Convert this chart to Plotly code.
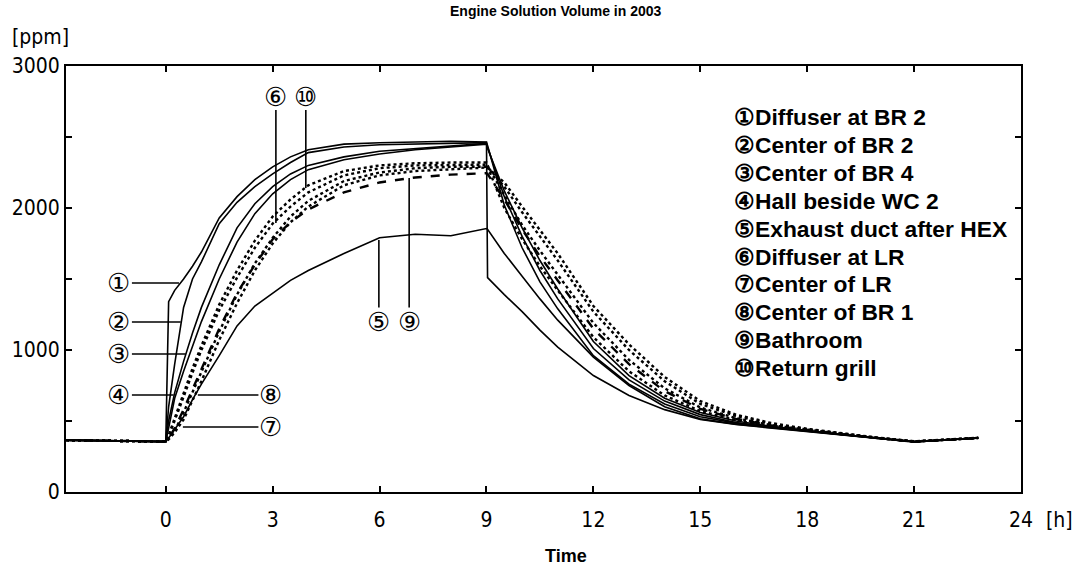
import plotly.graph_objects as go

TIME = [-2.8, 0, 0.08, 0.25, 0.5, 0.75, 1, 1.5, 2, 2.5, 3, 3.5, 4, 5, 6, 7, 8, 9,
        9.03, 9.5, 10, 10.5, 11, 12, 13, 14, 15, 16, 17, 18, 19, 20, 21, 22, 22.8]

S1 = [365, 355, 1340, 1420, 1500, 1590, 1690, 1930, 2080, 2200, 2290, 2360, 2410, 2450, 2460, 2465, 2470, 2465,
      1510, 1390, 1270, 1140, 1020, 820, 680, 580, 510, 475, 450, 425, 400, 375, 352, 368, 380]
S2 = [365, 355, 600, 900, 1300, 1500, 1620, 1890, 2040, 2150, 2240, 2320, 2390, 2430, 2445, 2450, 2460, 2460,
      2440, 2020, 1720, 1480, 1290, 960, 760, 620, 530, 485, 455, 428, 402, 378, 354, 368, 380]
S3 = [365, 355, 500, 700, 920, 1120, 1300, 1600, 1860, 2030, 2150, 2240, 2300, 2360, 2400, 2420, 2440, 2455,
      2430, 2080, 1800, 1560, 1360, 1010, 790, 640, 545, 490, 458, 430, 404, 380, 355, 368, 380]
S4 = [365, 355, 450, 660, 850, 1030, 1200, 1500, 1760, 1960, 2100, 2200, 2270, 2340, 2380, 2410, 2430, 2450,
      2420, 2120, 1860, 1630, 1430, 1060, 820, 660, 560, 500, 462, 432, 405, 380, 355, 368, 380]
S5 = [365, 355, 380, 440, 530, 650, 760, 960, 1170, 1310, 1400, 1490, 1560, 1680, 1790, 1815, 1805, 1855,
      1850, 1680, 1520, 1360, 1210, 950, 750, 600, 515, 478, 452, 426, 400, 376, 352, 368, 380]
S6 = [365, 355, 390, 500, 670, 840, 1000, 1280, 1510, 1720, 1890, 2010, 2110, 2230, 2280, 2300, 2305, 2305,
      2290, 2000, 1780, 1590, 1420, 1090, 850, 680, 570, 505, 464, 434, 406, 379, 355, 368, 380]
S7 = [365, 355, 370, 420, 510, 640, 780, 1070, 1330, 1560, 1750, 1900, 2010, 2160, 2230, 2260, 2275, 2285,
      2285, 2180, 2010, 1845, 1680, 1310, 1040, 810, 640, 545, 485, 445, 412, 382, 357, 370, 382]
S8 = [365, 355, 380, 430, 560, 700, 840, 1130, 1390, 1610, 1790, 1940, 2050, 2190, 2250, 2280, 2290, 2295,
      2290, 2150, 1970, 1800, 1630, 1270, 1000, 780, 620, 535, 478, 441, 410, 381, 356, 369, 381]
S9 = [365, 355, 375, 450, 580, 720, 860, 1150, 1400, 1600, 1780, 1900, 1990, 2110, 2180, 2215, 2235, 2245,
      2240, 2060, 1850, 1660, 1490, 1150, 900, 710, 585, 515, 468, 436, 407, 379, 355, 368, 380]
S10 = [365, 355, 400, 520, 700, 870, 1030, 1320, 1560, 1770, 1940, 2060, 2160, 2260, 2300, 2315, 2320, 2320,
       2300, 2090, 1880, 1700, 1530, 1190, 930, 730, 595, 520, 470, 437, 408, 380, 356, 369, 381]

NAMES = ["Diffuser at BR 2", "Center of BR 2", "Center of BR 4", "Hall beside WC 2",
         "Exhaust duct after HEX", "Diffuser at LR", "Center of LR", "Center of BR 1",
         "Bathroom", "Return grill"]
MARKS = ["①", "②", "③", "④", "⑤", "⑥", "⑦", "⑧", "⑨", "⑩"]
SERIES = [S1, S2, S3, S4, S5, S6, S7, S8, S9, S10]
STYLES = ["solid", "solid", "solid", "solid", "solid", "dot", "dot", "dot", "dash", "dot"]

X_TICKS = [0, 3, 6, 9, 12, 15, 18, 21, 24]
Y_TICKS = [0, 500, 1000, 1500, 2000, 2500, 3000]
Y_TEXT = ["0", "", "1000", "", "2000", "", "3000"]

# circled labels: (index, x, y, line x0, y0, x1, y1)
CALLOUTS = [
    (0, -1.32, 1472, -0.95, 1472, 0.37, 1472),
    (1, -1.32, 1197, -0.95, 1197, 0.42, 1197),
    (2, -1.32, 972, -0.95, 972, 0.56, 972),
    (3, -1.32, 683, -0.95, 683, 0.22, 683),
    (7, 2.95, 683, 0.9, 683, 2.6, 683),
    (6, 2.95, 458, 0.48, 458, 2.6, 458),
    (5, 3.09, 2782, 3.09, 2690, 3.09, 1894),
    (9, 3.93, 2782, 3.93, 2690, 3.93, 2140),
    (4, 5.98, 1197, 5.98, 1300, 5.98, 1775),
    (8, 6.83, 1197, 6.83, 1300, 6.83, 2211),
]

L, T, W, H = 63, 66, 958, 426

fig = go.Figure()
for i, s in enumerate(SERIES):
    w = 1.6 if STYLES[i] == "solid" else 2.4
    fig.add_trace(go.Scatter(x=TIME, y=s, mode="lines", name=NAMES[i],
                             line=dict(color="black", width=w, dash=STYLES[i]),
                             showlegend=False))

TICKFONT = dict(family="DejaVu Sans Condensed, Liberation Sans Narrow, sans-serif",
                size=21, color="black")

fig.update_layout(
    width=1081, height=572,
    margin=dict(l=L, r=1081 - L - W, t=T, b=572 - T - H),
    paper_bgcolor="white", plot_bgcolor="white",
    xaxis=dict(range=[-2.8, 24], tickvals=X_TICKS, ticks="inside", ticklen=6, tickwidth=2,
               showline=True, linewidth=2, linecolor="black", mirror="ticks",
               showgrid=False, zeroline=False, tickfont=TICKFONT, tickcolor="black",
               ticklabelstandoff=8),
    yaxis=dict(range=[0, 3000], tickvals=Y_TICKS, ticktext=Y_TEXT, ticks="inside", ticklen=6,
               tickwidth=2, showline=True, linewidth=2, linecolor="black", mirror="ticks",
               showgrid=False, zeroline=False, tickfont=TICKFONT, tickcolor="black"),
)

ann = []
shapes = []
for idx, x, y, x0, y0, x1, y1 in CALLOUTS:
    ann.append(dict(x=x, y=y, xref="x", yref="y", text=MARKS[idx], showarrow=False,
                    font=dict(family="DejaVu Sans", size=26, color="black")))
    shapes.append(dict(type="line", xref="x", yref="y", x0=x0, y0=y0, x1=x1, y1=y1,
                       line=dict(color="black", width=1.6)))

# legend block
for i in range(10):
    ann.append(dict(x=(731 - L) / W, y=1 - (117 + 27.9 * i - T) / H,
                    xref="paper", yref="paper", xanchor="left", yanchor="middle",
                    text="<b>" + MARKS[i] + NAMES[i] + "</b>", showarrow=False,
                    font=dict(family="Liberation Sans, Arial, sans-serif", size=22.8, color="black")))

ann.append(dict(x=(37 - L) / W, y=1 + (T - 37) / H, xref="paper", yref="paper", xanchor="center",
                yanchor="middle", text="[ppm]", showarrow=False, font=TICKFONT))
ann.append(dict(x=(1060 - L) / W, y=-(520 - T - H) / H, xref="paper", yref="paper",
                xanchor="center", yanchor="middle", text="[h]", showarrow=False, font=TICKFONT))
ann.append(dict(x=(565 - L) / W, y=-(556 - T - H) / H, xref="paper", yref="paper",
                xanchor="center", yanchor="middle", text="<b>Time</b>", showarrow=False,
                font=dict(family="Liberation Sans, Arial, sans-serif", size=18, color="black")))
ann.append(dict(x=(555 - L) / W, y=1 + (T - 1) / H, xref="paper", yref="paper",
                xanchor="center", yanchor="top",
                text="<b>Engine Solution Volume in 2003</b>", showarrow=False,
                font=dict(family="Liberation Sans, Arial, sans-serif", size=14, color="black")))

fig.update_layout(annotations=ann, shapes=shapes)
fig.write_html("out.html", config={"displayModeBar": False},
               post_script="document.body.style.margin='0';")
